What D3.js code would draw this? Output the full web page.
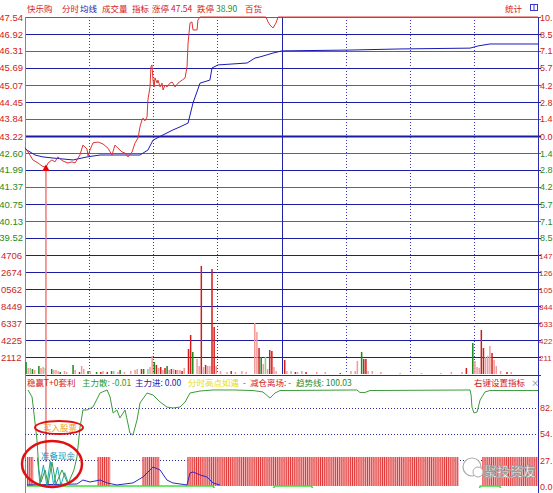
<!DOCTYPE html>
<html><head><meta charset="utf-8">
<script src="https://cdn.jsdelivr.net/npm/d3@7"></script>
<style>
body{margin:0;background:#fff;overflow:hidden}
svg{display:block;font-family:"Liberation Sans",Arial,sans-serif}
.cn{font-family:"Noto Sans CJK SC",sans-serif}
</style></head><body>
<svg width="553" height="493"></svg>
<script>
// minute (0..240) , price
var priceLine = [[0,42.75],[0.9,42.71],[2.3,42.53],[3.7,42.35],[6.1,42.24],[8,42.13],[9.8,42.08],[10.8,42.24],[12.6,42.35],[14,42.28],[15.4,42.46],[16.4,42.39],[17.8,42.31],[20.1,42.24],[22,42.28],[23.4,42.24],[25.7,42.53],[27.1,42.89],[29,42.75],[29.5,42.5],[30.4,42.71],[31.8,42.97],[34.2,43.0],[36.5,42.93],[38.8,42.78],[40.7,42.53],[42.1,42.89],[43.5,42.78],[45.4,42.64],[46.8,42.6],[48.2,42.46],[50.1,42.64],[51.5,42.97],[52.9,43.15],[53.8,43.55],[54.7,43.8],[55.2,43.87],[56.1,43.77],[57.1,43.91],[57.5,44.53],[58.5,45.0],[58.9,45.73],[59.4,45.8],[59.9,45.25],[60.4,45.0],[60.8,45.33],[61.8,45.14],[62.2,45.25],[63.2,45.0],[64.1,45.14],[64.6,44.89],[65.5,45.07],[66.4,45.0],[67.8,45.14],[68.8,45.18],[69.2,45.14],[70.2,45.0],[71.6,45.14],[73.5,45.25],[74.9,45.33],[75.8,45.73],[76.3,46.6],[77.2,47.32],[78.1,47.36],[78.6,47.07],[80.5,47.07],[80.9,47.43],[81.9,47.54],[112.7,47.54],[113.7,47.36],[114.6,47.25],[116,47.14],[117.4,47.32],[118.4,47.54],[240,47.54]];
var avgLine = [[0,42.79],[0.9,42.71],[4.7,42.53],[8.4,42.46],[13.1,42.42],[22.5,42.35],[29,42.46],[35.1,42.53],[44.4,42.53],[53.8,42.53],[57.5,42.71],[59.9,43.07],[64.6,43.26],[69.2,43.44],[72.5,43.55],[76.3,43.69],[78.6,44.42],[81.9,45.14],[86.5,45.25],[87.5,45.69],[90.3,45.8],[103.9,45.87],[107.6,46.05],[109.9,46.09],[116,46.23],[120.2,46.31],[152,46.34],[175.4,46.38],[208.2,46.41],[212,46.49],[217.5,46.56],[240,46.56]];
var priceTicks = [47.54,46.92,46.31,45.69,45.07,44.45,43.84,43.22,42.60,41.99,41.37,40.75,40.13,39.52,38.90];
// right-hand labels as far as the window shows them
var pctLabels = ["10.","8.5","7.1","5.7","4.2","2.8","1.4","0.0","1.4","2.8","4.2","5.7","7.1","8.5"];
var volTicks = [2112,4225,6337,8449,10562,12674,14786];
var volLeftLabels = ["2112","4225","6337","8449","0562","2674","4706"];
var volRightLabels = ["211","422","633","844","105","126","147"];
// minute, volume, colour kind
var volBars = [[0,1490,"g"],[1,745,"p"],[2,745,"lg"],[3,620,"g"],[4,500,"p"],[6,995,"g"],[7,745,"p"],[8,870,"p"],[9,745,"lg"],[12,620,"g"],[13,500,"p"],[14,500,"p"],[15,370,"p"],[16,250,"g"],[18,370,"p"],[19,250,"p"],[22,1120,"g"],[23,500,"p"],[25,250,"r"],[26,995,"p"],[27,620,"p"],[29,370,"g"],[30,370,"p"],[33,250,"g"],[35,250,"r"],[36,370,"p"],[38,250,"r"],[40,370,"g"],[41,370,"lg"],[43,250,"p"],[44,500,"g"],[46,250,"p"],[49,370,"p"],[51,500,"p"],[52,620,"p"],[54,620,"r"],[55,620,"g"],[57,620,"lg"],[58,870,"p"],[59,2240,"p"],[60,1490,"g"],[61,1120,"r"],[62,745,"p"],[63,870,"r"],[64,500,"p"],[65,745,"r"],[66,995,"g"],[67,500,"p"],[68,620,"r"],[69,620,"p"],[70,500,"r"],[71,500,"p"],[72,500,"p"],[73,370,"r"],[74,745,"p"],[76,3105,"r"],[77,4845,"r"],[78,2735,"g"],[80,1865,"p"],[81,995,"p"],[82,13420,"r"],[83,870,"p"],[84,1120,"r"],[85,995,"p"],[86,995,"p"],[87,13045,"r"],[88,5840,"r"],[89,995,"p"],[91,370,"p"],[94,250,"p"],[96,370,"r"],[98,250,"p"],[101,370,"p"],[103,250,"p"],[107,6335,"p"],[108,5220,"p"],[109,3230,"r"],[110,2110,"g"],[111,1240,"p"],[112,2110,"lg"],[113,620,"p"],[114,2980,"r"],[115,2860,"r"],[116,870,"p"],[117,370,"p"],[121,1740,"r"],[122,370,"p"],[124,370,"p"],[126,250,"r"],[127,250,"p"],[129,370,"p"],[131,250,"r"],[136,250,"p"],[140,250,"p"],[147,125,"r"],[152,370,"p"],[154,370,"p"],[155,1615,"p"],[157,2735,"g"],[158,1865,"r"],[159,1865,"r"],[160,370,"p"],[162,370,"p"],[166,250,"p"],[175,125,"p"],[185,125,"p"],[194,125,"p"],[199,250,"p"],[204,250,"p"],[206,745,"r"],[209,3850,"g"],[210,1615,"p"],[211,870,"p"],[212,745,"p"],[213,5465,"r"],[214,3230,"r"],[215,2110,"p"],[216,2240,"p"],[217,3480,"p"],[218,2610,"r"],[219,1740,"p"],[220,995,"p"],[222,370,"p"],[225,250,"r"],[227,250,"p"]];
// indicator panel
var indTicks = [27.40,54.81,82.21];
var indLabels = ["27.","54.","82."];
var trendLine = [[1.4,101.2],[3.3,93.8],[4.7,66.4],[5.6,48.5],[6.5,16.9],[7.5,4.2],[9.4,16.9],[10.8,2.1],[12.6,25.3],[14.5,2.1],[17.3,16.9],[20.1,2.1],[22.9,16.9],[24.3,30.6],[25.7,61.1],[27.1,80.1],[29,80.1],[31.8,83.2],[35.1,98],[38.4,101.2],[39.8,93.8],[41.2,76.9],[43,80.1],[44.4,71.7],[46.8,80.1],[49.1,55.8],[50.5,53.7],[52.4,69.5],[53.8,87.5],[57.1,98],[59.9,95.9],[63.2,88.5],[66.4,83.2],[69.2,82.2],[72.5,83.2],[74.9,88.5],[77.2,98],[81.9,100.1],[88,101.2],[97.3,101.2],[106.7,100.6],[111.3,99.1],[114.6,92.7],[117,98],[119.3,100.6],[155.3,101.2],[156.7,98.6],[159.1,98.6],[161.4,100.6],[208.2,101.2],[208.7,95.9],[209.1,83.2],[210.1,76.9],[211.5,78],[212.9,90.6],[215.2,99.1],[217.5,100.6],[240,100.6]];
var sanLine = [[5.8,30],[7,1],[8.6,22],[10.2,1],[11.8,26],[13.4,1],[15.2,20],[16.8,1],[18.6,14],[20.5,1]];
var inLine = [[0.9,1.1],[24.3,2.1],[27.1,6.3],[30.4,4.2],[35.1,6.3],[38.4,3.2],[43,1.1],[50.5,3.2],[55.2,9.5],[59.9,20],[63.2,16.9],[66.4,6.3],[69.2,3.2],[75.8,1.1],[77.2,13.7],[78.6,14.8],[81.9,11.6],[85.1,9.5],[88,3.2],[91.2,1.1]];
var zeroLine = [[0.9,0],[88,0],[89.5,-6],[115,-6],[117,0],[134,0],[135.5,-6],[212,-6],[213,0],[222,0],[223.5,-6],[240,-6]];
var signalRanges = [[1,3],[34,39],[55,62],[76,202],[214,240]];
var buyMinute = 9.8, buyPrice = 42.08;

var svg = d3.select("svg");
var x = d3.scaleLinear().domain([0,240]).range([25,538]);
var yP = d3.scaleLinear().domain([38.90,47.54]).range([255,17]);
var yV = d3.scaleLinear().domain([0,14786]).range([374,255]);
var yI = d3.scaleLinear().domain([0,109.6]).range([486,382]);
var step = x(1) - x(0);

// price grid
priceTicks.forEach(function(p, i) {
  if (i == priceTicks.length - 1) return;
  svg.append("line").attr("x1",25).attr("x2",541).attr("y1",Math.round(yP(p))+0.5).attr("y2",Math.round(yP(p))+0.5)
    .attr("stroke", i % 2 ? "#1c1ca0" : "#5858cc").attr("stroke-width", i == 7 ? 2 : 1);
  svg.append("text").attr("x",23).attr("y",yP(p)+3.5).attr("text-anchor","end").attr("font-size",9.5)
    .attr("fill", i <= 7 ? "#d42020" : "#1f8a1f").text(p.toFixed(2));
  svg.append("text").attr("x",540).attr("y",yP(p)+3.5).attr("font-size",9)
    .attr("fill", i <= 7 ? "#d42020" : "#1f8a1f").text(pctLabels[i]);
});

// volume grid
volTicks.forEach(function(v, i) {
  var yy = Math.round(yV(v)) + 0.5;
  svg.append("line").attr("x1",25).attr("x2",541).attr("y1",yy).attr("y2",yy).attr("stroke","#1c1ca0");
  svg.append("text").attr("x",1).attr("y",yy+3).attr("font-size",9.5).attr("fill","#c82828").text(volLeftLabels[i]);
  svg.append("text").attr("x",539).attr("y",yy+3).attr("font-size",8).attr("fill","#c82828").text(volRightLabels[i]);
});
svg.append("line").attr("x1",25).attr("x2",541).attr("y1",375.5).attr("y2",375.5).attr("stroke","#2a2ab0");

// time lines
[30,60,90,150,180,210].forEach(function(m) {
  svg.append("line").attr("x1",Math.round(x(m))+0.5).attr("x2",Math.round(x(m))+0.5).attr("y1",17).attr("y2",374)
    .attr("stroke","#3a3ad0").attr("stroke-dasharray","1,2");
});
svg.append("line").attr("x1",Math.round(x(120))+0.5).attr("x2",Math.round(x(120))+0.5).attr("y1",17).attr("y2",374).attr("stroke","#2020a8");
svg.append("line").attr("x1",25.5).attr("x2",25.5).attr("y1",17).attr("y2",493).attr("stroke","#7a7ae0");
svg.append("line").attr("x1",538.5).attr("x2",538.5).attr("y1",17).attr("y2",493).attr("stroke","#2a2ab0");

// volume bars
var volColor = {r:"#d41c1c", p:"#f29a9a", g:"#1a8a1a", lg:"#8fca8f"};
svg.append("g").selectAll("rect").data(volBars).enter().append("rect")
  .attr("x", function(d){ return x(d[0]) + 0.3; })
  .attr("y", function(d){ return yV(d[1]); })
  .attr("width", 1.5)
  .attr("height", function(d){ return 374 - yV(d[1]); })
  .attr("fill", function(d){ return volColor[d[2]]; });

// buy marker line
svg.append("line").attr("x1",x(buyMinute)).attr("x2",x(buyMinute)).attr("y1",yP(buyPrice)+3).attr("y2",462)
  .attr("stroke","#f07a7a").attr("stroke-width",1.5);

// price + average
var pl = d3.line().x(function(d){ return x(d[0]); }).y(function(d){ return yP(d[1]); });
svg.append("path").attr("d", pl(avgLine)).attr("fill","none").attr("stroke","#1a1ab8").attr("stroke-width",1);
svg.append("path").attr("d", pl(priceLine)).attr("fill","none").attr("stroke","#e03434").attr("stroke-width",1);
svg.append("path").attr("d", d3.symbol().type(d3.symbolTriangle).size(24))
  .attr("transform","translate(" + x(buyMinute) + "," + (yP(buyPrice)+1.5) + ")").attr("fill","#e80000");

// indicator panel
svg.append("clipPath").attr("id","ic").append("rect").attr("x",26).attr("y",376).attr("width",512).attr("height",112);
indTicks.forEach(function(t, i) {
  svg.append("line").attr("x1",25).attr("x2",541).attr("y1",Math.round(yI(t))+0.5).attr("y2",Math.round(yI(t))+0.5)
    .attr("stroke","#2a2a9a").attr("stroke-dasharray","1,2");
  svg.append("text").attr("x",540).attr("y",yI(t)+3.5).attr("font-size",9).attr("fill","#d42020").text(indLabels[i]);
});
svg.append("text").attr("x",540).attr("y",yI(0)+3.5).attr("font-size",9).attr("fill","#d42020").text("0.0");

var ig = svg.append("g").attr("clip-path","url(#ic)");
signalRanges.forEach(function(r) {
  for (var m = r[0]; m <= r[1]; m++) {
    ig.append("rect").attr("x", x(m)).attr("y", yI(30.6)).attr("width", step).attr("height", yI(0) - yI(30.6)).attr("fill","#f6b4b4");
    ig.append("rect").attr("x", x(m)).attr("y", yI(30.6)).attr("width", 0.9).attr("height", yI(0) - yI(30.6)).attr("fill","#e02a2a");
  }
});
var il = d3.line().x(function(d){ return x(d[0]); }).y(function(d){ return yI(d[1]); });
ig.append("path").attr("d", il(zeroLine)).attr("fill","none").attr("stroke","#3ee03e").attr("stroke-width",1.6);
ig.append("path").attr("d", il(inLine)).attr("fill","none").attr("stroke","#2a2ac0").attr("stroke-width",1);
ig.append("path").attr("d", il(sanLine)).attr("fill","none").attr("stroke","#1aa8b8").attr("stroke-width",1);
ig.append("path").attr("d", il(trendLine)).attr("fill","none").attr("stroke","#3d9a3d").attr("stroke-width",1);

// legends
var fs = 8.5;
[[27,"快乐购","#d42020"],[62,"分时","#d42020"],[80,"均线","#1a1aa8"],[102,"成交量","#d42020"],[132,"指标","#d42020"],[152,"涨停","#d42020"],[171,"47.54","#d42020"],[197,"跌停","#d42020"],[216,"38.90","#1f8a1f"],[245,"百货","#d42020"],[505,"统计","#d42020"]]
  .forEach(function(t){ svg.append("text").attr("class","cn").attr("x",t[0]).attr("y",12).attr("font-size",fs).attr("fill",t[2]).text(t[1]); });
svg.append("rect").attr("x",530.5).attr("y",4.5).attr("width",7).attr("height",6).attr("fill","#fff").attr("stroke","#3a3ad0");
svg.append("line").attr("x1",534).attr("x2",534).attr("y1",5).attr("y2",10).attr("stroke","#3a3ad0");

[[27,"稳赢T+0套利","#d42020"],[82,"主力散: -0.01","#1f9a1f"],[135,"主力进: 0.00","#1a1aa8"],[188,"分时高点如遇","#e6dc10"],[243,"-","#d42020"],[250,"减仓离场: -","#d42020"],[296,"趋势线: 100.03","#1f8a1f"],[474,"右键设置指标","#d42020"],[531,"×","#888"]]
  .forEach(function(t){ svg.append("text").attr("class","cn").attr("x",t[0]).attr("y",386).attr("font-size",fs).attr("fill",t[2]).text(t[1]); });

// annotations
svg.append("ellipse").attr("cx",59).attr("cy",427.5).attr("rx",24).attr("ry",6.5).attr("fill","none").attr("stroke","#e01010").attr("stroke-width",2);
svg.append("text").attr("class","cn").attr("x",60).attr("y",430.5).attr("text-anchor","middle").attr("font-size",fs).attr("fill","#f09a20").text("买入股票");
svg.append("ellipse").attr("cx",52).attr("cy",464).attr("rx",30).attr("ry",23).attr("fill","none").attr("stroke","#e01010").attr("stroke-width",2.5);
svg.append("text").attr("class","cn").attr("x",58).attr("y",459).attr("text-anchor","middle").attr("font-size",fs).attr("fill","#1a9ab8").text("准备现金");

// watermark
svg.append("circle").attr("cx",472).attr("cy",467).attr("r",9).attr("fill","#fff").attr("stroke","#aaa").attr("stroke-width",1.2);
svg.append("circle").attr("cx",478).attr("cy",472).attr("r",5).attr("fill","#fff").attr("stroke","#aaa").attr("stroke-width",1);
svg.append("text").attr("class","cn").attr("x",484).attr("y",476).attr("font-size",13).attr("font-weight","bold")
  .attr("fill","#fff").attr("stroke","#999").attr("stroke-width",0.8).text("聚投资友");
</script>
</body></html>
